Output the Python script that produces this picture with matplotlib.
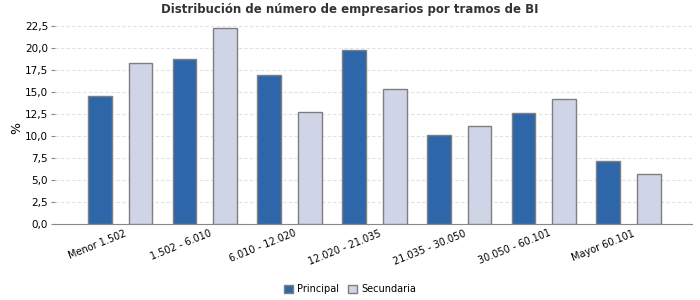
import matplotlib.pyplot as plt
import numpy as np

# data
categories = ["Menor 1.502", "1.502 - 6.010", "6.010 - 12.020", "12.020 - 21.035",
              "21.035 - 30.050", "30.050 - 60.101", "Mayor 60.101"]
principal = [14.5, 18.75, 16.9, 19.8, 10.15, 12.6, 7.15]
secundaria = [18.3, 22.27, 12.7, 15.35, 11.15, 14.25, 5.7]
yticks = [0, 2.5, 5, 7.5, 10, 12.5, 15, 17.5, 20, 22.5]

fig = plt.figure(figsize=(7, 3), dpi=100)
ax = fig.add_axes([0.0786, 0.2533, 0.91, 0.6807])

x = np.arange(len(categories))
width = 0.28
ax.bar(x - 0.24, principal, width, color='#2E67A9', edgecolor='#7F7F7F',
       linewidth=1, label='Principal', zorder=3)
ax.bar(x + 0.24, secundaria, width, color='#CFD4E6', edgecolor='#7F7F7F',
       linewidth=1, label='Secundaria', zorder=3)

ax.set_xlim(-0.77, 6.75)
ax.set_ylim(0, 23.2)
ax.set_yticks(yticks)
ax.set_yticklabels([f"{v:.1f}".replace('.', ',') for v in yticks], fontsize=7.5)
ax.yaxis.grid(True, color='#E2E2E2', linestyle=(0, (3, 2)), linewidth=0.8, zorder=0)
ax.tick_params(axis='y', length=3, color='#888888', pad=2)
ax.tick_params(axis='x', length=0, pad=3)

ax.set_xticks(x + 0.05)
ax.set_xticklabels(categories, rotation=22, ha='right', rotation_mode='anchor', fontsize=7)

for s in ['top', 'right', 'left']:
    ax.spines[s].set_visible(False)
ax.spines['bottom'].set_color('#888888')

ax.set_ylabel('%', fontsize=9)
ax.yaxis.set_label_coords(-0.05, 0.47)

fig.suptitle('Distribución de número de empresarios por tramos de BI',
             fontsize=8.5, fontweight='bold', color='#333333', x=0.5, y=0.99)

fig.legend(loc='lower center', bbox_to_anchor=(0.5, -0.01), ncol=2, fontsize=7,
           frameon=False, handlelength=0.9, handleheight=0.9, columnspacing=1.0,
           handletextpad=0.4)

fig.savefig('out.png', dpi=100)
